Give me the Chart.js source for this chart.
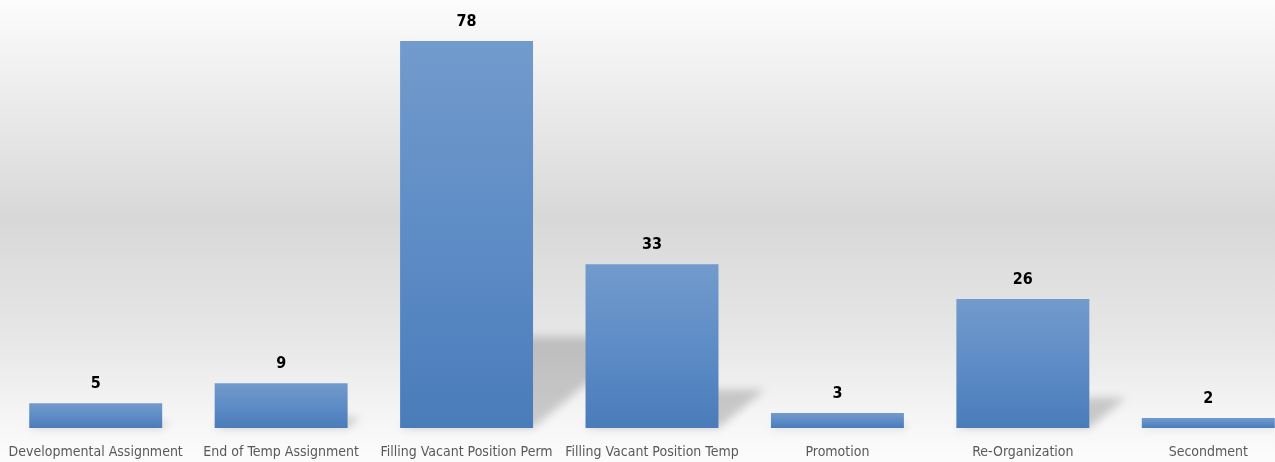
<!DOCTYPE html>
<html>
<head>
<meta charset="utf-8">
<script src="https://cdn.jsdelivr.net/npm/chart.js@4.4.1/dist/chart.umd.min.js"></script>
<style>
  html, body { margin: 0; padding: 0; overflow: hidden; background: #fbfbfb; }
  #wrap { width: 1302px; height: 462px; }
</style>
</head>
<body>
<div id="wrap"><canvas id="c" width="1302" height="462"></canvas></div>
<script>
const categories = [
  "Developmental Assignment",
  "End of Temp Assignment",
  "Filling Vacant Position Perm",
  "Filling Vacant Position Temp",
  "Promotion",
  "Re-Organization",
  "Secondment"
];
const counts = [5, 9, 78, 33, 3, 26, 2];

const LABEL_FONT = '"DejaVu Sans Condensed", "DejaVu Sans", sans-serif';

const bgPlugin = {
  id: 'bg',
  beforeDraw(chart) {
    const ctx = chart.ctx;
    const h = chart.height;
    const g = ctx.createLinearGradient(0, 0, 0, h);
    g.addColorStop(0, '#fcfcfc');
    g.addColorStop(0.08, '#f6f6f6');
    g.addColorStop(0.47, '#d8d8d8');
    g.addColorStop(0.72, '#e6e6e6');
    g.addColorStop(0.9, '#f5f5f5');
    g.addColorStop(1, '#fcfcfc');
    ctx.save();
    ctx.fillStyle = g;
    ctx.fillRect(0, 0, chart.width, h);
    ctx.restore();
  }
};

const shadowPlugin = {
  id: 'barShadow',
  beforeDatasetsDraw(chart) {
    const ctx = chart.ctx;
    const meta = chart.getDatasetMeta(0);
    ctx.save();
    ctx.filter = 'blur(4px)';
    ctx.fillStyle = 'rgba(0,0,0,0.18)';
    meta.data.forEach(el => {
      const H = el.base - el.y;
      const hs = 0.235 * H;
      const k = 1.2;
      const left = el.x - el.width / 2;
      const right = el.x + el.width / 2;
      ctx.beginPath();
      ctx.moveTo(left, el.base);
      ctx.lineTo(right, el.base);
      ctx.lineTo(right + k * hs, el.base - hs);
      ctx.lineTo(left + k * hs, el.base - hs);
      ctx.closePath();
      ctx.fill();
    });
    ctx.restore();
  }
};

const labelPlugin = {
  id: 'valueLabels',
  afterDatasetsDraw(chart) {
    const ctx = chart.ctx;
    const meta = chart.getDatasetMeta(0);
    ctx.save();
    ctx.font = 'bold 16px ' + LABEL_FONT;
    ctx.fillStyle = '#000000';
    ctx.textAlign = 'center';
    ctx.textBaseline = 'middle';
    meta.data.forEach((el, i) => {
      ctx.fillText(String(counts[i]), el.x, el.y - 19);
    });
    ctx.restore();
  }
};

new Chart(document.getElementById('c'), {
  type: 'bar',
  data: {
    labels: categories,
    datasets: [{
      data: counts,
      backgroundColor: (context) => {
        const chart = context.chart;
        const y = chart.scales.y;
        if (!y || context.dataIndex === undefined) return '#5f8ac3';
        const top = y.getPixelForValue(counts[context.dataIndex]);
        const base = y.getPixelForValue(0);
        if (!isFinite(top) || !isFinite(base) || top === base) return '#5f8ac3';
        const g = chart.ctx.createLinearGradient(0, top, 0, base);
        g.addColorStop(0, '#729bcd');
        g.addColorStop(0.6, '#5a89c4');
        g.addColorStop(1, '#4a7cba');
        return g;
      },
      borderWidth: 0,
      categoryPercentage: 1,
      barPercentage: 0.717
    }]
  },
  options: {
    responsive: false,
    animation: false,
    layout: { autoPadding: false, padding: { left: 3, right: 1, top: 31, bottom: 0 } },
    plugins: { legend: { display: false }, tooltip: { enabled: false } },
    scales: {
      y: { display: false, min: 0, max: 80 },
      x: {
        grid: { display: false, drawTicks: false },
        border: { display: false },
        ticks: {
          color: '#595959',
          font: { family: LABEL_FONT, size: 14 },
          padding: 16,
          maxRotation: 0,
          autoSkip: false
        },
        afterFit(scale) { scale.height = 34; scale.paddingLeft = 0; scale.paddingRight = 0; }
      }
    }
  },
  plugins: [bgPlugin, shadowPlugin, labelPlugin]
});
</script>
</body>
</html>
